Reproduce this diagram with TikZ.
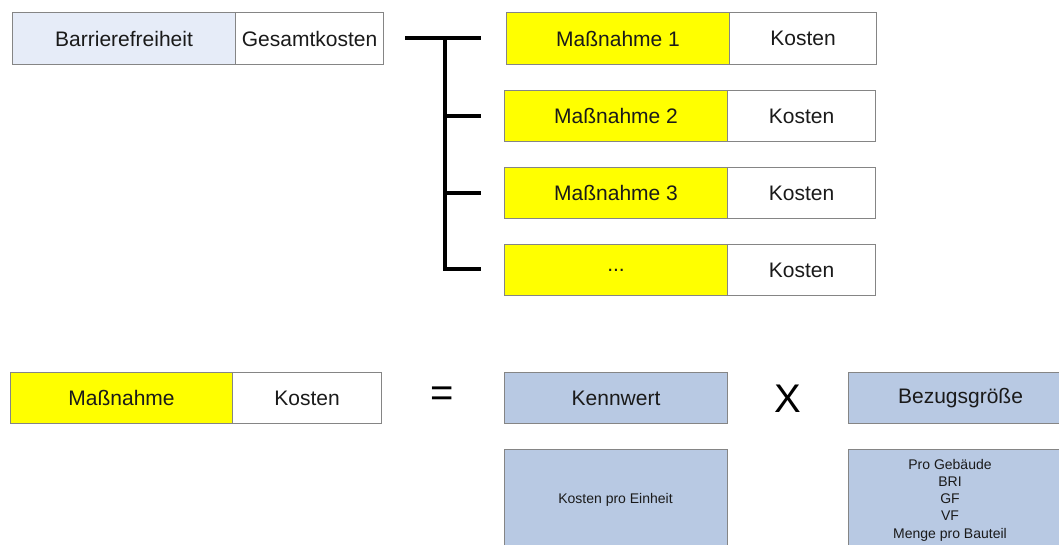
\documentclass[tikz,border=0pt]{standalone}
\usepackage{fontspec}
\setmainfont{Liberation Sans}
\definecolor{boxline}{HTML}{858585}
\definecolor{lightblue}{HTML}{E6ECF8}
\definecolor{midblue}{HTML}{B8C9E3}
\definecolor{yel}{HTML}{FFFF00}
\definecolor{txt}{HTML}{1A1A1A}
\tikzset{
  cell/.style={draw=boxline, line width=1.1pt, inner sep=0pt, anchor=north west,
    text=txt, font=\fontsize{21}{25}\selectfont},
  bracketline/.style={line width=3.2pt, black},
  small/.style={text=txt, font=\fontsize{14}{17.3}\selectfont, align=center, inner sep=0pt},
  op/.style={text=black, font=\fontsize{40}{42}\selectfont, inner sep=0pt}
}
\begin{document}
\begin{tikzpicture}[x=1pt,y=-1pt]
\useasboundingbox (0,0) rectangle (1059,545);
\clip (0,0) rectangle (1059,545);
\fill[white] (0,0) rectangle (1059,545);
% top total
\node[cell, fill=lightblue, minimum width=223pt, minimum height=52pt] (barr) at (12,12) {Barrierefreiheit};
\node[cell, fill=white, minimum width=148pt, minimum height=52pt] (ges) at (235,12) {Gesamtkosten};
% measures
\node[cell, fill=yel, minimum width=223pt, minimum height=52pt] (m1) at (506,12) {Maßnahme 1};
\node[cell, fill=white, minimum width=147pt, minimum height=52pt] (k1) at (729,12) {Kosten};
\node[cell, fill=yel, minimum width=223pt, minimum height=51pt] (m2) at (504,90) {Maßnahme 2};
\node[cell, fill=white, minimum width=148pt, minimum height=51pt] (k2) at (727,90) {Kosten};
\node[cell, fill=yel, minimum width=223pt, minimum height=51pt] (m3) at (504,167) {Maßnahme 3};
\node[cell, fill=white, minimum width=148pt, minimum height=51pt] (k3) at (727,167) {Kosten};
\node[cell, fill=yel, minimum width=223pt, minimum height=51pt] (m4) at (504,244) {...};
\node[cell, fill=white, minimum width=148pt, minimum height=51pt] (k4) at (727,244) {Kosten};
% bracket
\coordinate (b0) at (405,38);
\coordinate (bj) at (445,38);
\coordinate (bb) at (445,269);
\coordinate (e1) at (481,38);
\coordinate (e2) at (481,116);
\coordinate (e3) at (481,193);
\coordinate (e4) at (481,269);
\draw[bracketline] (b0) -- (e1);
\draw[bracketline] (bj) -- (bb) -- (e4);
\draw[bracketline] (bj |- e2) -- (e2);
\draw[bracketline] (bj |- e3) -- (e3);
% formula
\node[cell, fill=yel, minimum width=222pt, minimum height=51pt] (mm) at (10,372) {Maßnahme};
\node[cell, fill=white, minimum width=149pt, minimum height=51pt] (km) at (232,372) {Kosten};
\node[op] (eq) at (442,397) {=};
\node[cell, fill=midblue, minimum width=223pt, minimum height=51pt] (kw) at (504,372) {Kennwert};
\node[op] (times) at (788,399) {X};
\node[cell, fill=midblue, minimum width=224pt, minimum height=51pt] (bg) at (848,372) {Bezugsgröße};
\node[cell, fill=midblue, minimum width=223pt, minimum height=101pt] (kwd) at (504,449) {};
\node[small] (kwt) at (615.5,500) {Kosten pro Einheit};
\node[cell, fill=midblue, minimum width=224pt, minimum height=101pt] (bgd) at (848,449) {};
\node[small] (bgt) at (950,500) {Pro Gebäude\\BRI\\GF\\VF\\Menge pro Bauteil};
\end{tikzpicture}
\end{document}
